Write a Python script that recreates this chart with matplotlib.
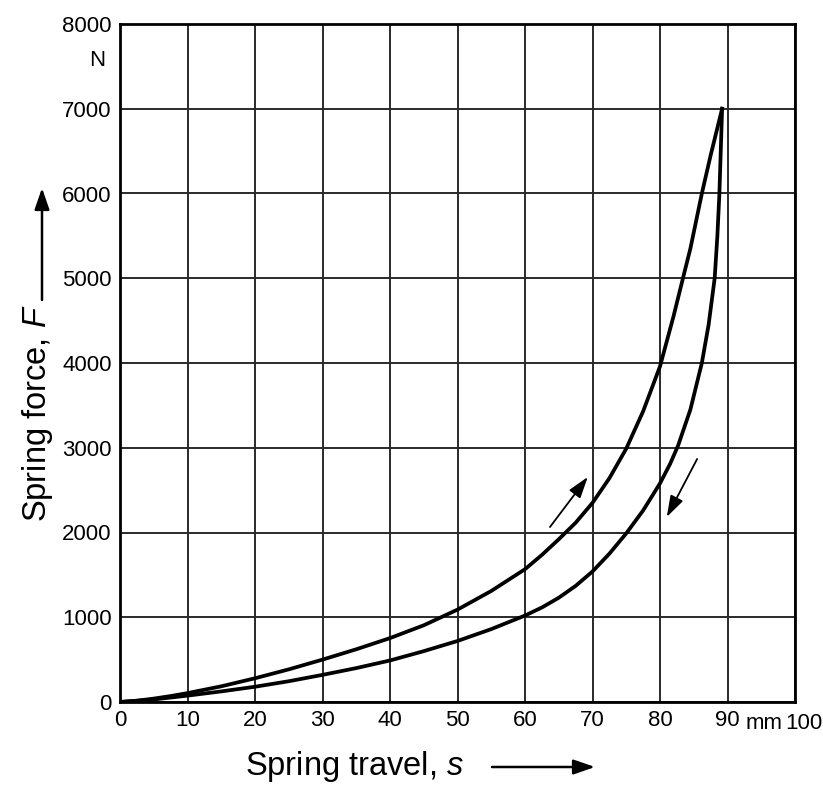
import matplotlib
matplotlib.use("Agg")
import matplotlib.pyplot as plt

plt.rcParams['font.family'] = ['Liberation Sans', 'DejaVu Sans']
plt.rcParams['mathtext.fontset'] = 'custom'
plt.rcParams['mathtext.rm'] = 'Liberation Sans'
plt.rcParams['mathtext.it'] = 'Liberation Sans:italic'

# Loading curve (upper, arrow up)
s_load = [0, 2.5, 5, 7.5, 10, 15, 20, 25, 30, 35, 40, 45, 50, 55, 60, 62.5,
          65, 67.5, 70, 72.5, 75, 77.5, 80, 82, 83.4, 84.5, 86.2, 87.5, 89.2]
F_load = [0, 15, 40, 70, 105, 185, 280, 385, 500, 622, 754, 905, 1090, 1310,
          1567, 1735, 1920, 2115, 2350, 2640, 2990, 3430, 3960, 4550, 5000,
          5350, 6000, 6450, 7000]

# Unloading curve (lower, arrow down)
s_unload = [89.2, 89.0, 88.8, 88.5, 88.1, 87.2, 86.2, 84.5, 82.7, 81.5, 80,
            77.5, 75, 72.5, 70, 67.5, 65, 62.5, 60, 55, 50, 45, 40, 35, 30,
            25, 20, 15, 10, 5, 0]
F_unload = [7000, 6500, 6000, 5500, 5000, 4450, 4000, 3450, 3030, 2810, 2580,
            2260, 1990, 1750, 1540, 1370, 1230, 1115, 1020, 860, 720, 600, 490,
            400, 320, 245, 180, 125, 75, 30, 0]

x_ticks = [0, 10, 20, 30, 40, 50, 60, 70, 80, 90, 100]
x_labels = ['0', '10', '20', '30', '40', '50', '60', '70', '80', '90', '']
y_ticks = [0, 1000, 2000, 3000, 4000, 5000, 6000, 7000, 8000]
y_labels = ['0', '1000', '2000', '3000', '4000', '5000', '6000', '7000', '8000']

# direction arrows (tail -> head) in data units
arrow_up = [(63.7, 2065), (69.3, 2655)]
arrow_down = [(85.5, 2867), (81.0, 2183)]

fig = plt.figure(figsize=(8.23, 7.85), dpi=100)
ax = fig.add_axes([120/823, 1-702/785, (795-120)/823, (702-24)/785])
ax.set_xlim(0, 100)
ax.set_ylim(0, 8000)
ax.set_xticks(x_ticks)
ax.set_xticklabels(x_labels, fontsize=16)
ax.set_yticks(y_ticks)
ax.set_yticklabels(y_labels, fontsize=16)
ax.tick_params(length=0, pad=6)
ax.grid(True, color='#2a2a2a', lw=1.4)
ax.set_axisbelow(True)
for sp in ax.spines.values():
    sp.set_linewidth(2.0)
    sp.set_color('black')

ax.plot(s_load, F_load, color='black', lw=2.7, solid_joinstyle='round')
ax.plot(s_unload, F_unload, color='black', lw=2.7, solid_joinstyle='round')

for (t, h) in (arrow_up, arrow_down):
    ax.annotate('', xy=h, xytext=t,
                arrowprops=dict(arrowstyle='-|>,head_length=1.3,head_width=0.42',
                                color='black', lw=1.3, shrinkA=0, shrinkB=0))

# units
fig.text(97/823, 1-60/785, 'N', fontsize=16, ha='center', va='center')
ax.text(95.4, -250, 'mm', fontsize=16, ha='center', va='center',
        transform=ax.transData, clip_on=False)
ax.text(101.3, -250, '100', fontsize=16, ha='center', va='center',
        transform=ax.transData, clip_on=False)

# axis labels with arrows
fig.text(245/823, 1-766/785, 'Spring travel, $\\mathit{s}$', fontsize=23.5,
         ha='left', va='center')
ax.annotate('', xy=(595, 785-767), xytext=(492, 785-767), xycoords='figure pixels',
            textcoords='figure pixels',
            arrowprops=dict(arrowstyle='-|>,head_length=1.3,head_width=0.45',
                            color='black', lw=1.8, shrinkA=0, shrinkB=0))

fig.text(38/823, 1-522/785, 'Spring force, $\\mathit{F}$', fontsize=23.5,
         rotation=90, ha='center', va='bottom')
ax.annotate('', xy=(42, 785-188), xytext=(42, 785-300), xycoords='figure pixels',
            textcoords='figure pixels',
            arrowprops=dict(arrowstyle='-|>,head_length=1.3,head_width=0.45',
                            color='black', lw=1.8, shrinkA=0, shrinkB=0))

fig.savefig('out.png', dpi=100)
